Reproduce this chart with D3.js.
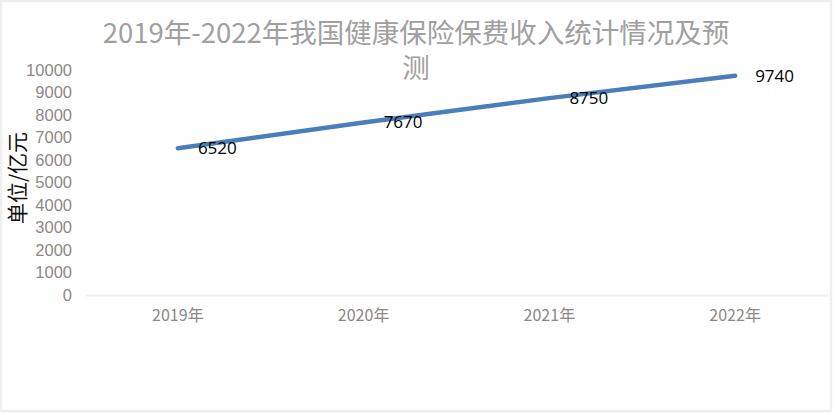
<!DOCTYPE html>
<html><head><meta charset="utf-8">
<script src="https://cdn.jsdelivr.net/npm/d3@7"></script>
<style>html,body{margin:0;padding:0;background:#fff;}svg{display:block;}</style>
</head><body>
<svg id="c" width="833" height="413"></svg>
<script>
const categories = ["2019年", "2020年", "2021年", "2022年"];
const values = [6520, 7670, 8750, 9740];
const yTicks = [0, 1000, 2000, 3000, 4000, 5000, 6000, 7000, 8000, 9000, 10000];
const titleLines = ["2019年-2022年我国健康保险保费收入统计情况及预", "测"];
const yTitle = "单位/亿元";

const W = 833, H = 413;
const svg = d3.select("#c");
svg.append("rect").attr("x", 1).attr("y", 1).attr("width", W - 3).attr("height", H - 3)
  .attr("fill", "#fff").attr("stroke", "#eeeeee").attr("stroke-width", 2.5);

const m = {left: 85, right: 5, top: 70, bottom: 118};
const x = d3.scaleBand().domain(categories).range([m.left, W - m.right]);
const y = d3.scaleLinear().domain([0, 10000]).range([H - m.bottom, m.top]);

const font = "'Noto Sans CJK SC', 'Open Sans', sans-serif";

// title
titleLines.forEach((s, i) => svg.append("text").attr("text-anchor", "middle")
  .attr("font-family", font).attr("font-size", 27.5).attr("fill", "#a0a0a0")
  .attr("x", 416).attr("y", 43 + i * 35).text(s));

// y axis
const ya = svg.append("g").attr("transform", `translate(${m.left},0)`)
  .call(d3.axisLeft(y).tickValues(yTicks).tickSize(0).tickPadding(13).tickFormat(d3.format("d")));
ya.select(".domain").remove();
ya.selectAll("text").attr("font-family", "'Liberation Sans', 'Open Sans', sans-serif")
  .attr("font-size", 16.5).attr("fill", "#8c8886");

// x axis
const xa = svg.append("g").attr("transform", `translate(0,${y(0)})`)
  .call(d3.axisBottom(x).tickSize(0).tickPadding(15));
xa.select(".domain").attr("stroke", "#f0f0f0").attr("stroke-width", 2);
xa.selectAll("text").attr("font-family", font).attr("font-size", 16).attr("fill", "#8c8886");

// y title
svg.append("text").attr("transform", `translate(25,178) rotate(-90)`)
  .attr("text-anchor", "middle").attr("font-family", "'Noto Sans CJK SC', sans-serif")
  .attr("font-size", 21).attr("fill", "#111").text(yTitle);

// line
const data = categories.map((c, i) => ({c, v: values[i]}));
svg.append("path").datum(data)
  .attr("d", d3.line().x(d => x(d.c) + x.bandwidth() / 2).y(d => y(d.v)))
  .attr("fill", "none").attr("stroke", "#4a7ebb").attr("stroke-width", 4.5).attr("stroke-linecap", "round");

// labels
svg.selectAll(".lbl").data(data).enter().append("text")
  .attr("x", d => x(d.c) + x.bandwidth() / 2 + 20)
  .attr("y", d => y(d.v) + 6)
  .attr("font-family", "'Open Sans', 'Liberation Sans', sans-serif")
  .attr("font-size", 17).attr("fill", "#000").text(d => d.v);
</script>
</body></html>
